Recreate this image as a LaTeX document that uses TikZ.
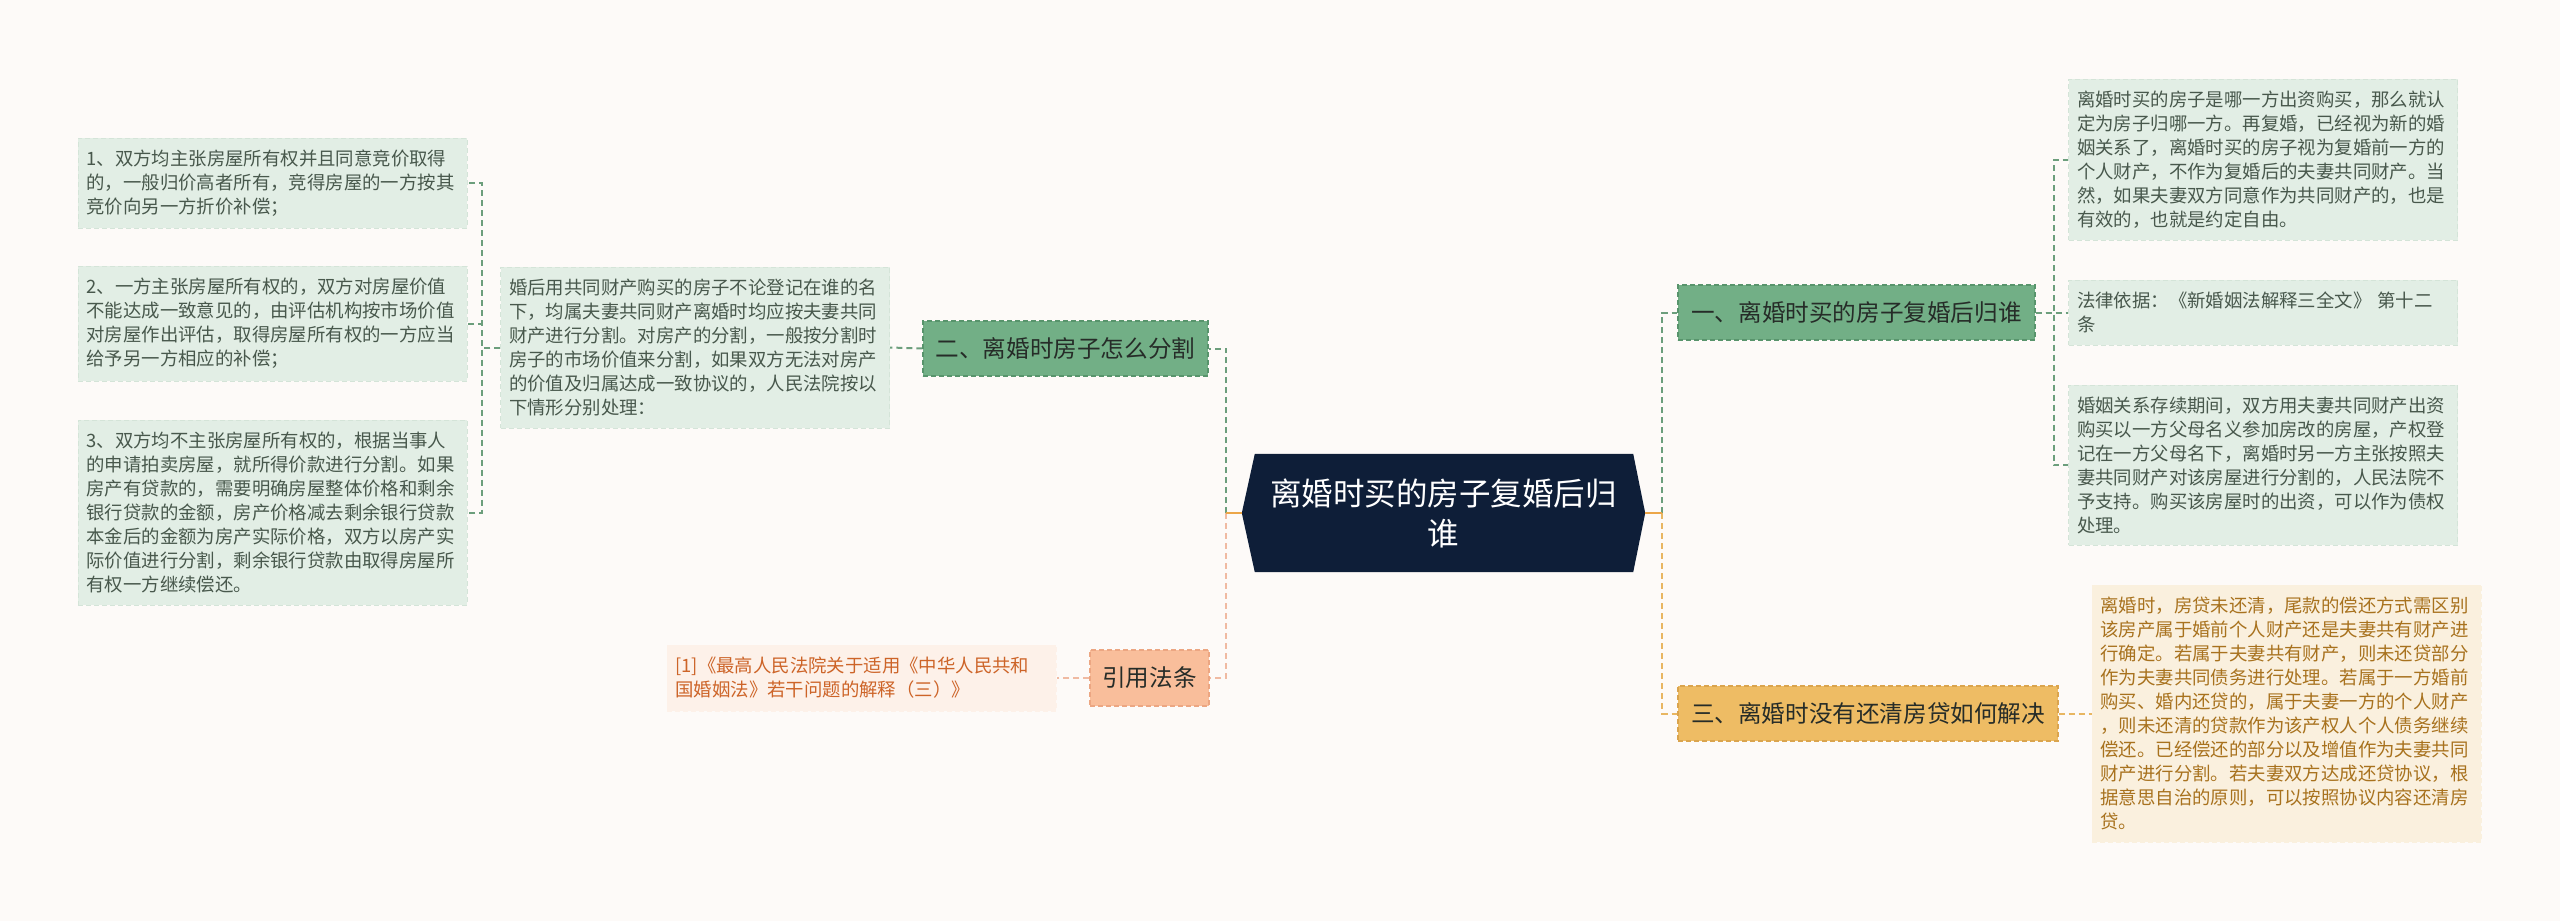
\documentclass[tikz,border=0pt]{standalone}
\usepackage{fontspec}
\setmainfont{Noto Sans CJK SC}
\usetikzlibrary{calc,backgrounds}
\definecolor{bgc}{RGB}{253,250,248}
\definecolor{navy}{RGB}{14,30,56}
\definecolor{lgfill}{RGB}{226,238,229}
\definecolor{lgborder}{RGB}{212,228,216}
\definecolor{lgtext}{RGB}{72,88,76}
\definecolor{gfill}{RGB}{114,175,134}
\definecolor{gborder}{RGB}{88,148,108}
\definecolor{gline}{RGB}{108,158,124}
\definecolor{sfill}{RGB}{249,190,155}
\definecolor{sborder}{RGB}{236,166,130}
\definecolor{sline}{RGB}{240,186,162}
\definecolor{cfill}{RGB}{253,241,233}
\definecolor{ctext}{RGB}{205,100,40}
\definecolor{yfill}{RGB}{238,188,100}
\definecolor{yborder}{RGB}{218,164,78}
\definecolor{yline}{RGB}{232,182,98}
\definecolor{dfill}{RGB}{250,240,222}
\definecolor{dtext}{RGB}{168,114,30}
\definecolor{oline}{RGB}{236,166,72}
\definecolor{darktext}{RGB}{38,44,40}
\tikzset{
  conn/.style={line width=2pt, dash pattern=on 6pt off 4pt},
  gconn/.style={conn, draw=gline},
  sconn/.style={conn, draw=sline},
  yconn/.style={conn, draw=yline},
  solidconn/.style={line width=2pt, draw=oline},
  leafbox/.style={align=left, text width=372pt, inner xsep=8.5pt, inner ysep=0pt,
    font=\fontsize{18.4}{24}\selectfont, dash pattern=on 5pt off 3pt, line width=1pt},
  gleaf/.style={leafbox, fill=lgfill, draw=lgborder, text=lgtext},
  cleaf/.style={leafbox, fill=cfill, draw=cfill, text=ctext},
  dleaf/.style={leafbox, fill=dfill, draw=dfill, text=dtext},
  branch/.style={font=\fontsize{23.6}{28}\selectfont, text=darktext, inner sep=0pt,
    minimum height=55pt, dash pattern=on 5pt off 3pt, line width=1.2pt},
  gbranch/.style={branch, fill=gfill, draw=gborder},
  sbranch/.style={branch, fill=sfill, draw=sborder},
  ybranch/.style={branch, fill=yfill, draw=yborder},
}
\begin{document}
\begin{tikzpicture}[x=1pt,y=-1pt]
\begin{scope}[on background layer]
\fill[bgc] (0,0) rectangle (2560,921);
\end{scope}
\useasboundingbox (0,0) rectangle (2560,921);

% central
\node (c) at (1443.5,513) [minimum width=403pt, minimum height=118pt, inner sep=0pt,
  text=white, align=center, font=\fontsize{31.5}{40}\selectfont] {离婚时买的房子复婚后归\\谁};
\begin{scope}[on background layer]
\fill[navy] ($(c.north west)+(13,0)$) -- ($(c.north east)+(-12,0)$) -- (c.east)
  -- ($(c.south east)+(-12,0)$) -- ($(c.south west)+(13,0)$) -- (c.west) -- cycle;
\end{scope}

% left side
\node (Er) at (1065.5,348.5) [gbranch, minimum width=285pt] {二、离婚时房子怎么分割};
\node (Yin) at (1149.5,678) [sbranch, minimum width=119pt, minimum height=56pt] {引用法条};
\node (M) at (695,347.5) [gleaf, minimum height=161pt] {婚后用共同财产购买的房子不论登记在谁的名\\下，均属夫妻共同财产离婚时均应按夫妻共同\\财产进行分割。对房产的分割，一般按分割时\\房子的市场价值来分割，如果双方无法对房产\\的价值及归属达成一致协议的，人民法院按以\\下情形分别处理：};
\node (L1) at (272.5,183) [gleaf, minimum height=90pt] {1、双方均主张房屋所有权并且同意竞价取得\\的，一般归价高者所有，竞得房屋的一方按其\\竞价向另一方折价补偿；};
\node (L2) at (272.5,323.5) [gleaf, minimum height=115pt] {2、一方主张房屋所有权的，双方对房屋价值\\不能达成一致意见的，由评估机构按市场价值\\对房屋作出评估，取得房屋所有权的一方应当\\给予另一方相应的补偿；};
\node (L3) at (272.5,512.5) [gleaf, minimum height=185pt] {3、双方均不主张房屋所有权的，根据当事人\\的申请拍卖房屋，就所得价款进行分割。如果\\房产有贷款的，需要明确房屋整体价格和剩余\\银行贷款的金额，房产价格减去剩余银行贷款\\本金后的金额为房产实际价格，双方以房产实\\际价值进行分割，剩余银行贷款由取得房屋所\\有权一方继续偿还。};
\node (Cite) at (861.5,678) [cleaf, minimum height=66pt] {[1]《最高人民法院关于适用《中华人民共和\\国婚姻法》若干问题的解释（三）》};

% right side
\node (Yi) at (1856.5,312.5) [gbranch, minimum width=357pt] {一、离婚时买的房子复婚后归谁};
\node (San) at (1868,713.5) [ybranch, minimum width=380pt] {三、离婚时没有还清房贷如何解决};
\node (RA) at (2263,159.5) [gleaf, minimum height=161pt] {离婚时买的房子是哪一方出资购买，那么就认\\定为房子归哪一方。再复婚，已经视为新的婚\\姻关系了，离婚时买的房子视为复婚前一方的\\个人财产，不作为复婚后的夫妻共同财产。当\\然，如果夫妻双方同意作为共同财产的，也是\\有效的，也就是约定自由。};
\node (RB) at (2263,312.5) [gleaf, minimum height=65pt] {法律依据：《新婚姻法解释三全文》 第十二\\条};
\node (RC) at (2263,465) [gleaf, minimum height=160pt] {婚姻关系存续期间，双方用夫妻共同财产出资\\购买以一方父母名义参加房改的房屋，产权登\\记在一方父母名下，离婚时另一方主张按照夫\\妻共同财产对该房屋进行分割的，人民法院不\\予支持。购买该房屋时的出资，可以作为债权\\处理。};
\node (D) at (2286.5,713.5) [dleaf, minimum height=257pt] {离婚时，房贷未还清，尾款的偿还方式需区别\\该房产属于婚前个人财产还是夫妻共有财产进\\行确定。若属于夫妻共有财产，则未还贷部分\\作为夫妻共同债务进行处理。若属于一方婚前\\购买、婚内还贷的，属于夫妻一方的个人财产\\，则未还清的贷款作为该产权人个人债务继续\\偿还。已经偿还的部分以及增值作为夫妻共同\\财产进行分割。若夫妻双方达成还贷协议，根\\据意思自治的原则，可以按照协议内容还清房\\贷。};

% connectors
\coordinate (lbus) at (1226,513);
\coordinate (rbus) at (1662,513);
\begin{scope}[on background layer]
\draw[gconn] (lbus) |- (Er.east);
\draw[sconn] (lbus) |- (Yin.east);
\draw[solidconn] (c.west) -- (lbus);
\draw[gconn] (rbus) |- (Yi.west);
\draw[yconn] (rbus) |- (San.west);
\draw[solidconn] (c.east) -- (rbus);
\draw[gconn] (Er.west) -- (M.east);
\draw[sconn] (Yin.west) -- (Cite.east);
\draw[gconn] (M.west) -- ++(-18,0) |- (L1.east);
\draw[gconn] (M.west) -- ++(-18,0) |- (L2.east);
\draw[gconn] (M.west) -- ++(-18,0) |- (L3.east);
\draw[gconn] (Yi.east) -- ++(18,0) |- (RA.west);
\draw[gconn] (Yi.east) -- ++(18,0) |- (RB.west);
\draw[gconn] (Yi.east) -- ++(18,0) |- (RC.west);
\draw[yconn] (San.east) -- (D.west);
\end{scope}
\end{tikzpicture}
\end{document}
